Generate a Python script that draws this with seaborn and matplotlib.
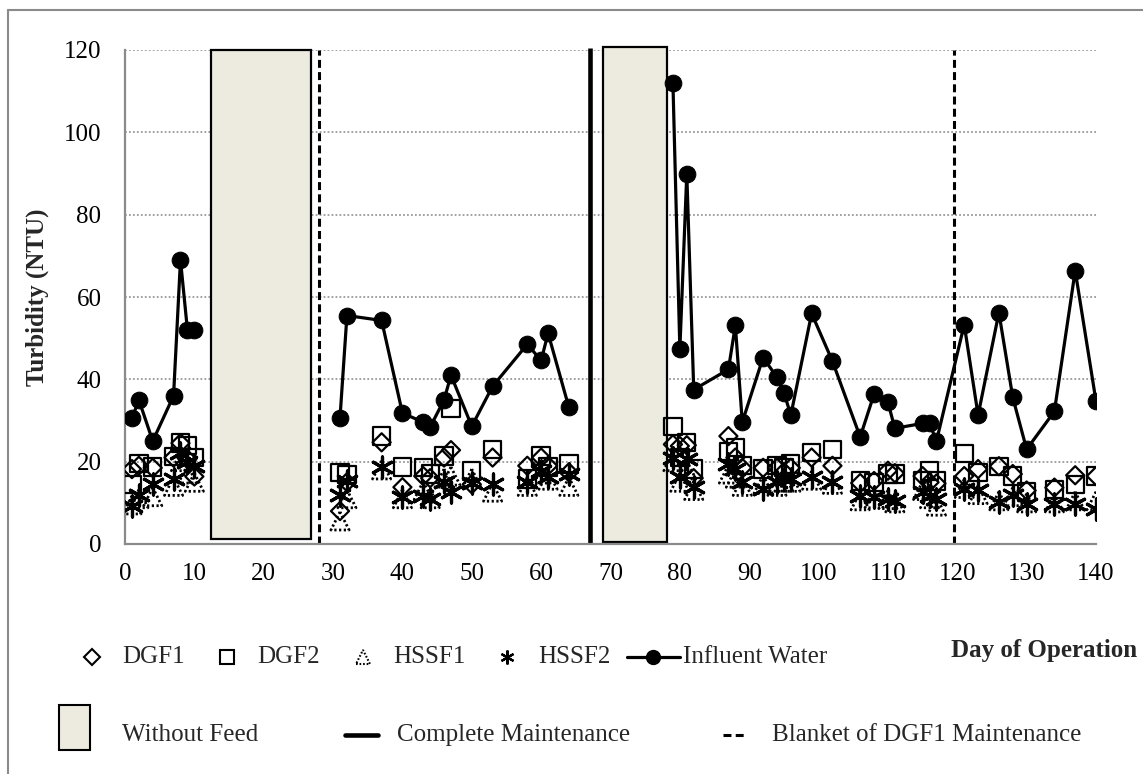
import numpy as np
import pandas as pd
import matplotlib
matplotlib.use("Agg")
import matplotlib.pyplot as plt
import seaborn as sns
from matplotlib.lines import Line2D
from matplotlib.patches import Rectangle, Polygon

# ---------------- data ----------------
days = [1, 2, 4, 7, 8, 9, 10,
        31, 32, 37, 40, 43, 44, 46, 47, 50, 53, 58, 60, 61, 64,
        79, 80, 81, 82, 87, 88, 89, 92, 94, 95, 96, 99, 102, 106, 108, 110, 111, 115, 116, 117,
        121, 123, 126, 128, 130, 134, 137, 140]

# operating period (the line is interrupted by the no-feed periods)
period = [1] * 7 + [2] * 14 + [3] * 28

influent = [30.5, 35, 25, 36, 69, 52, 52,
            30.7, 55.5, 54.3, 31.8, 29.6, 28.4, 35, 41, 28.6, 38.3, 48.5, 44.6, 51.2, 33.2,
            112, 47.3, 90, 37.5, 42.4, 53.1, 29.6, 45.3, 40.5, 36.8, 31.3, 56, 44.4, 26, 36.4, 34.4, 28.1, 29.3, 29.3, 25,
            53.3, 31.3, 56.2, 35.6, 23, 32.2, 66.4, 34.7]

dgf1 = [18.2, 19, 18.5, 21, 24.5, 20.6, 16.4,
        8, 15, 24.7, 13.8, 16.5, 16, 21, 22.8, 14.5, 21, 19, 21, 19, 17.4,
        24.2, 23.8, 24, 16, 26.2, 21, 18.5, 18.5, 18.5, 17.5, 18.5, 21, 19, 14.8, 15.3, 17.8, 17.2, 16.5, 15, 14.7,
        16.5, 18.2, 18.9, 17, 13, 13.7, 16.7, 16.5]

dgf2 = [14.5, 19.6, 18.7, 21.3, 24.5, 24, 21,
        17.4, 16.9, 26.2, 18.7, 18.5, 17, 21.4, 33, 17.7, 23, 15.8, 21.4, 18.7, 19.4,
        28.6, 21, 24.7, 18.2, 22.5, 23.5, 19, 18.2, 19, 18.5, 19.4, 22.2, 23, 15.3, 15, 17, 17, 15.5, 17.7, 15.3,
        22, 17.4, 18.9, 16.5, 12.6, 13.3, 14.5, 16.5]

hssf1 = [9.5, 11, 11.5, 14, 20, 17, 15,
         5.6, 11, 18, 11, 13, 11, 16, 16.5, 16, 12.6, 14, 17, 15.5, 14,
         20, 15, 18, 13, 17, 16, 14, 14.5, 14, 15, 15, 15.5, 14.5, 10.5, 11, 10.8, 10, 13, 11, 9.2,
         13.5, 12, 10.5, 11.5, 10, 10, 10.5, 10.5]

hssf2 = [9.2, 12, 14.5, 15.8, 22, 19.9, 19,
         11.9, 15.3, 18.7, 11.4, 11.6, 11, 15, 12.6, 14.7, 14.5, 15, 17.7, 16.2, 17,
         21, 16.2, 20.6, 13.8, 19.4, 18.2, 15, 13.3, 15, 15.7, 15.8, 16.2, 15, 11.7, 11.5, 11, 10.4, 12.6, 11.7, 10.9,
         13.3, 13, 10.2, 12, 9.7, 9.7, 9.7, 8.5]

# periods without feed (start day, end day, bottom, top)
nofeed_start = [12.4, 68.9]
nofeed_end = [26.8, 78.1]
nofeed_bottom = [1.2, 0.5]
nofeed_top = [120, 120.7]

complete_maint = [67]
blanket_maint = [28, 119.5]

yticks = [0, 20, 40, 60, 80, 100, 120]
xticks = list(range(0, 141, 10))

series_labels = ["DGF1", "DGF2", "HSSF1", "HSSF2", "Influent Water"]

df = pd.DataFrame({"day": days, "period": period, "DGF1": dgf1, "DGF2": dgf2,
                   "HSSF1": hssf1, "HSSF2": hssf2, "Influent Water": influent})

# ---------------- style ----------------
sns.set_theme(style="white")
plt.rcParams["font.family"] = ["Liberation Serif", "DejaVu Serif"]
plt.rcParams["font.size"] = 18

W, H = 1143, 774
fig = plt.figure(figsize=(W / 100, H / 100), dpi=100)
ax = fig.add_axes([125 / W, 1 - 544 / H, (1096 - 125) / W, (544 - 50) / H])

GRAY = "#8a8a8a"

# without-feed boxes
ax.bar(nofeed_start, np.array(nofeed_top) - np.array(nofeed_bottom),
       width=np.array(nofeed_end) - np.array(nofeed_start), bottom=nofeed_bottom,
       align="edge", color="#EDEBE0", edgecolor="black", linewidth=1.6,
       zorder=2, clip_on=False)

# maintenance lines
ax.vlines(complete_maint, 0, 120.6, colors="black", linewidth=3.3, zorder=2, clip_on=False)
ax.vlines(blanket_maint, 0, 120, colors="black", linewidth=2.2,
          linestyles=(0, (2.6, 1.4)), zorder=2)

# filter series
sns.scatterplot(data=df, x="day", y="DGF1", marker="D", s=85, facecolor="none",
                edgecolor="black", linewidth=1.6, ax=ax, zorder=3)
sns.scatterplot(data=df, x="day", y="DGF2", marker="s", s=155, facecolor="none",
                edgecolor="black", linewidth=1.6, ax=ax, zorder=3)
sns.scatterplot(data=df, x="day", y="HSSF1", marker="^", s=170, facecolor="none",
                edgecolor="black", linewidth=2.0, linestyle=(0, (0.8, 0.9)), ax=ax, zorder=3)
sns.scatterplot(data=df, x="day", y="HSSF2", marker=(6, 2, 0), s=230, color="black",
                linewidth=2.3, ax=ax, zorder=3)

# influent water
sns.lineplot(data=df, x="day", y="Influent Water", units="period", estimator=None,
             color="black", linewidth=2.3, marker="o", markersize=12,
             markeredgecolor="black", ax=ax, zorder=4)

# axes
ax.set_xlim(0, 140)
ax.set_ylim(0, 120)
ax.set_xticks(xticks)
ax.set_yticks(yticks)
ax.yaxis.grid(True, color="#9a9a9a", linestyle=(0, (1, 1.2)), linewidth=1.3)
ax.xaxis.grid(False)
ax.set_axisbelow(True)
for s in ["top", "right"]:
    ax.spines[s].set_visible(False)
for s in ["left", "bottom"]:
    ax.spines[s].set_color(GRAY)
    ax.spines[s].set_linewidth(1.6)
ax.tick_params(axis="both", direction="out", length=5, width=1.5, color=GRAY,
               labelsize=18, labelcolor="black")
ax.tick_params(axis="y", pad=12)
ax.tick_params(axis="x", pad=9)
ax.set_xlabel("")
ax.set_ylabel("Turbidity (NTU)", fontsize=18, fontweight="bold", labelpad=11)

# ---------------- legend (figure coords) ----------------
def F(x, y):
    return (x / W, 1 - y / H)

r1 = 657
r2 = 735
fs = 18
# row 1
fig.add_artist(Line2D(*zip(F(92, r1)), marker="D", markersize=8, markerfacecolor="none",
                      markeredgecolor="black", markeredgewidth=1.5, linestyle="none",
                      transform=fig.transFigure))
fig.text(*F(122, r1), series_labels[0], fontsize=fs, va="center", ha="left")
fig.add_artist(Line2D(*zip(F(227, r1)), marker="s", markersize=10, markerfacecolor="none",
                      markeredgecolor="black", markeredgewidth=1.5, linestyle="none",
                      transform=fig.transFigure))
fig.text(*F(257, r1), series_labels[1], fontsize=fs, va="center", ha="left")
tri = [F(356, r1 + 7), F(370, r1 + 7), F(363, r1 - 7)]
fig.add_artist(Polygon(tri, closed=True, fill=False, edgecolor="black", linewidth=1.5,
                       linestyle=(0, (0.8, 0.9)), transform=fig.transFigure))
fig.text(*F(393, r1), series_labels[2], fontsize=fs, va="center", ha="left")
fig.add_artist(Line2D(*zip(F(507, r1)), marker=(6, 2, 0), markersize=10,
                      markeredgecolor="black", markeredgewidth=1.6, linestyle="none",
                      transform=fig.transFigure))
fig.text(*F(538, r1), series_labels[3], fontsize=fs, va="center", ha="left")
fig.add_artist(Line2D([627 / W, 680 / W], [1 - r1 / H] * 2, color="black", linewidth=2.3,
                      transform=fig.transFigure))
fig.add_artist(Line2D(*zip(F(653, r1)), marker="o", markersize=10, color="black",
                      linestyle="none", transform=fig.transFigure))
fig.text(*F(683, r1), series_labels[4], fontsize=fs, va="center", ha="left")
fig.text(*F(1137, r1 - 6), "Day of Operation", fontsize=fs, fontweight="bold",
         va="center", ha="right")

# row 2
x0, y0 = F(59, 750)
fig.add_artist(Rectangle((x0, y0), 31 / W, 45 / H, facecolor="#EDEBE0", edgecolor="black",
                         linewidth=1.5, transform=fig.transFigure))
fig.text(*F(122, r2), "Without Feed", fontsize=fs, va="center", ha="left")
fig.add_artist(Line2D([345 / W, 378 / W], [1 - r2 / H] * 2, color="black", linewidth=3.3,
                      transform=fig.transFigure))
fig.text(*F(397, r2), "Complete Maintenance", fontsize=fs, va="center", ha="left")
fig.add_artist(Line2D([723 / W, 747 / W], [1 - r2 / H] * 2, color="black", linewidth=2.2,
                      linestyle=(0, (2.6, 1.4)), transform=fig.transFigure))
fig.text(*F(772, r2), "Blanket of DGF1 Maintenance", fontsize=fs, va="center", ha="left")

# outer frame (left and top edges visible)
fig.add_artist(Line2D([8 / W, 8 / W], [0, 1 - 10 / H], color=GRAY, linewidth=1.5,
                      transform=fig.transFigure))
fig.add_artist(Line2D([8 / W, 1], [1 - 10 / H, 1 - 10 / H], color=GRAY, linewidth=1.5,
                      transform=fig.transFigure))

fig.savefig("out.png", dpi=100)
